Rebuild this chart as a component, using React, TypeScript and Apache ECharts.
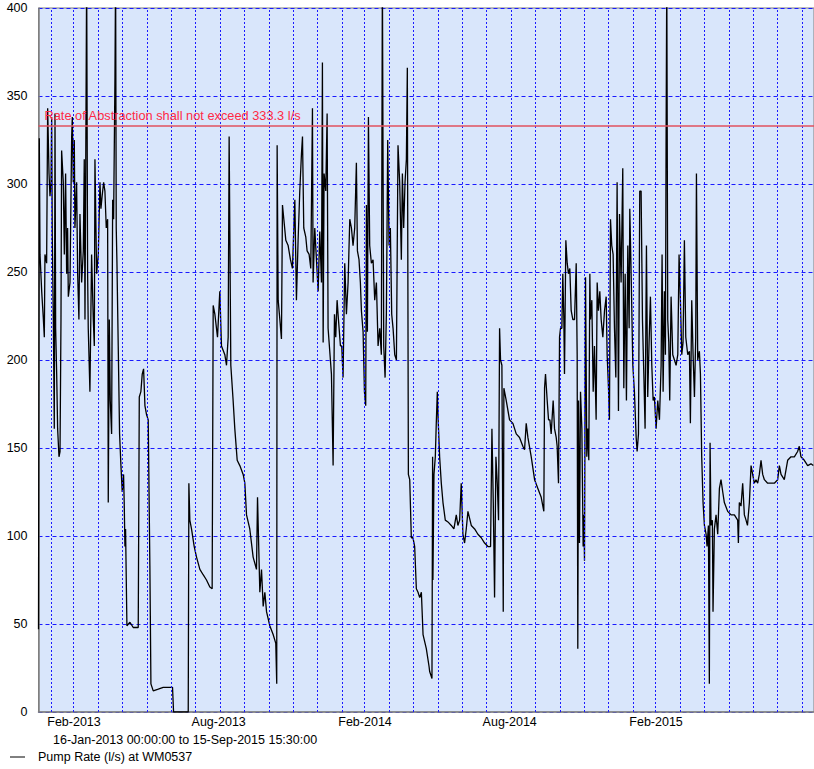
import React, { useEffect, useRef } from 'react';
import * as echarts from 'echarts';

const START = Date.UTC(2013, 0, 16);
const END = Date.UTC(2015, 8, 15, 15, 30);
const DAY = 86400000;

// days after 16-Jan-2013, and pump rate (l/s)
const days = [
  0, 1, 1.9, 4, 6, 7.3, 8.1, 10.2, 11.5, 13.2, 14.4, 15.7, 16.5, 17.3, 18.6, 19.8, 20.7, 21.5, 22.8, 24, 25.7, 27, 28.2, 29,
  31.1, 32.4, 34, 35.3, 36.5, 37.4, 39.5, 41.6, 42.4, 43.6, 44.9, 45.7, 47.8, 49.1, 50.7, 52, 54.1, 56.2, 57.4, 58.3,
  60.4, 61.6, 62.4, 64.5, 66.6, 68.7, 70, 70.8, 72.9, 75, 77.1, 78.3, 80, 81.7, 83.3, 85, 86.7, 87.5, 88.8, 90, 91.7,
  93, 94.2, 95.9, 96.7, 97.5, 98.4, 100, 101.7, 103.4, 105, 106.7, 107.5, 108.4, 109.2, 110.9, 114.7, 118.8, 125.1,
  126.4, 128.4, 130.1, 131.8, 133.5, 135.5, 137.6, 139.7, 141, 143.9, 150.2, 156.4, 162.7, 168.1, 169.4, 187.8, 188.6,
  189.8, 191.9, 195.3, 198.2, 202.4, 206.5, 210.7, 214.9, 217.8, 219.1, 221.2, 224.5, 227.4, 229.5, 233.7, 235.8,
  237.9, 239.1, 241.2, 244.1, 246.2, 249.2, 252.5, 256.7, 258.8, 260.9, 265, 269.2, 273.4, 274.7, 277.6, 279.7, 281.8,
  283.9, 286, 290.1, 294.3, 297.6, 298.8, 299.3, 300.6, 302.7, 304.7, 306, 307.7, 310.2, 313.1, 316, 318.5, 321.5,
  323.5, 325.6, 327.7, 329.8, 331.1, 332.7, 335.2, 336.9, 339.4, 341.5, 343.6, 344.4, 346.5, 348.6, 350.7, 352.8,
  354.9, 356.1, 357, 358.2, 360.3, 362, 363.2, 365.3, 367.4, 369.5, 371.2, 372.8, 374.5, 376.2, 378.7, 380.3, 382,
  384.1, 386.2, 388.3, 390.4, 392.5, 394.5, 396.6, 398.7, 400, 402, 403.7, 405, 407.1, 408.8, 410.4, 411.3, 412.5,
  413.8, 415.4, 417.5, 419.6, 421.7, 423.8, 425.9, 428, 430, 431.3, 433, 434.7, 436.3, 438, 439.7, 441.3, 443, 444.7,
  446.8, 448.9, 450.9, 453, 455.1, 456.4, 458, 459.7, 461.4, 462.6, 463.9, 465.6, 467.6, 469.7, 471.8, 473.9, 476,
  478.1, 480.2, 482.3, 486.4, 489.8, 490.6, 493.5, 494.3, 494.7, 496, 497.7, 498.9, 500.2, 501, 503.1, 505.2, 507.3,
  510.2, 513.5, 517.7, 521, 524, 526, 528.2, 530.2, 532.3, 534.4, 536.5, 538.6, 542.8, 547, 551.1, 555.3, 559.5,
  563.7, 567, 568.7, 570.4, 572, 573.7, 575.4, 577, 578.3, 579.5, 581.2, 582.9, 583.7, 586.6, 590.8, 595, 599.2,
  603.3, 607.5, 609.6, 611.7, 613.8, 618, 622.2, 626.3, 630.5, 633.8, 634.7, 635.9, 638, 639.7, 641.4, 643, 645.5,
  647.2, 649.3, 650.5, 652.2, 653.5, 654.7, 656.4, 657.6, 658.9, 659.7, 661.4, 663.1, 664.7, 666.4, 668.1, 670.2,
  672.3, 674.4, 675.6, 676.4, 677.3, 678.5, 679.8, 681.5, 683.1, 684, 684.8, 686.1, 687.7, 689, 690.2, 691.5, 692.3,
  694, 695.7, 697.3, 699.4, 700.7, 702.3, 704, 705.7, 707.8, 709.9, 712, 713.2, 714.9, 716.1, 717.4, 719, 720.7,
  722.4, 724.1, 725.7, 727.4, 728.7, 730.7, 732.8, 734.1, 735.8, 737.4, 739.1, 740.8, 741.6, 743.3, 745.4, 747.4,
  749.6, 750.8, 752.5, 754.1, 755.8, 757.5, 759.2, 760.8, 762.5, 764.1, 765.8, 767.5, 769.2, 770.9, 772.5, 774.6,
  776.7, 778.8, 780.9, 782.1, 783.4, 785, 786.3, 787.1, 788, 789.2, 790.5, 791.7, 793.4, 795.5, 797.6, 799.7, 801.8,
  803.4, 805.1, 806.8, 808.4, 810.1, 811.8, 814.3, 816.4, 817.6, 819.3, 821, 822.7, 824.3, 825.2, 826.8, 828.9,
  830.2, 831.8, 833.5, 835.2, 837.3, 838.5, 840.2, 841.4, 842.3, 843.5, 845.2, 846, 847.7, 849.8, 851.9, 854, 856,
  858.2, 860.2, 864.4, 868.6, 872.8, 876.9, 877.8, 879, 881.1, 883.2, 885.3, 887.4, 889.2, 891.6, 893.7, 895.7,
  897.8, 899.9, 902, 904.1, 906.2, 908.3, 910.4, 914.5, 918.7, 922.9, 927.1, 929.2, 931.3, 935.4, 939.6, 943.8, 948,
  952.1, 954.2, 956.3, 960.5, 964.7, 968.8, 971.8,
];
const rates = [
  47, 326, 260, 239, 224, 213, 260, 255, 343, 306, 293, 301, 338, 270, 223, 161, 340, 218, 192, 161, 145, 148, 223, 319,
  301, 260, 306, 249, 275, 236, 244, 327, 338, 301, 325, 275, 301, 249, 223, 283, 244, 262, 314, 223,
  420, 249, 218, 182, 260, 223, 208, 314, 249, 260, 301, 286, 294, 301, 296, 275, 280, 119, 223, 177, 158,
  291, 280, 361, 420, 275, 255, 208, 158, 140, 125, 135, 119, 94, 104, 49, 51, 48, 48,
  179, 182, 192, 195, 174, 169, 166, 83, 16, 12, 13, 14, 14, 14, 0, 0, 130,
  109, 104, 94, 88, 81, 78, 75, 71, 70, 231, 226, 213, 239, 208, 203, 197,
  213, 327, 197, 177, 161, 143, 140, 135, 130, 112, 104, 88, 81, 122, 68, 81, 60,
  68, 57, 49, 44, 39, 16, 322, 234, 223, 212, 288, 280, 268, 265, 257, 252, 291,
  234, 268, 296, 317, 327, 275, 270, 262, 260, 252, 343, 244, 275, 257, 239, 273,
  244, 369, 210, 306, 296, 340, 218, 205, 192, 140, 226, 213, 234, 223, 208, 208, 190,
  255, 226, 244, 280, 275, 265, 275, 312, 262, 257, 244, 228, 216, 182, 174, 288, 216,
  338, 265, 255, 257, 234, 244, 208, 218, 203, 420, 208, 190, 226, 325, 265, 275, 226, 218,
  203, 200, 322, 301, 257, 306, 275, 301, 314, 366, 135, 132, 99, 99, 94, 70, 68,
  65, 68, 44, 36, 26, 23, 19, 145, 75, 135, 145, 164, 182, 169, 145, 130, 119,
  109, 108, 106, 104, 112, 106, 109, 130, 101, 96, 104, 114, 106, 104, 101, 99, 96,
  94, 94, 161, 119, 65, 145, 130, 109, 218, 200, 197, 57, 184, 177, 166, 164, 158,
  156, 151, 149, 164, 156, 145, 132, 127, 122, 114, 184, 192, 177, 166, 166, 158, 177,
  161, 156, 151, 130, 213, 218, 218, 249, 223, 192, 268, 255, 249, 252, 228, 223,
  223, 255, 203, 36, 177, 96, 182, 161, 94, 112, 86, 247, 145, 161, 143, 249, 223,
  234, 182, 208, 166, 244, 228, 239, 223, 213, 228, 236, 203, 184, 166, 280, 265, 260,
  218, 190, 301, 171, 283, 244, 309, 184, 249, 177, 265, 218, 286, 249, 197, 182,
  156, 148, 158, 296, 296, 223, 192, 161, 265, 179, 210, 236, 197, 177, 179, 161,
  177, 166, 197, 260, 182, 239, 203, 322, 420, 223, 210, 177, 236, 203, 200, 197, 203,
  260, 234, 203, 210, 268, 213, 203, 205, 164, 234, 203, 179, 213, 306, 200, 205,
  192, 145, 119, 106, 101, 94, 106, 16, 153, 106, 109, 57, 104, 112, 101, 127, 132,
  125, 119, 114, 112, 112, 109, 96, 119, 117, 130, 112, 109, 106, 119, 140, 135,
  130, 132, 130, 135, 143, 135, 132, 130, 130, 130, 132, 140, 135, 132, 143, 145, 145,
  148, 151, 145, 143, 140, 141, 140,
];

const LIMIT = 333.3;
const yTicks = [0, 50, 100, 150, 200, 250, 300, 350, 400];
const labelMonths = [
  [2013, 1], [2013, 7], [2014, 1], [2014, 7], [2015, 1],
];
const monthNames = ['Jan', 'Feb', 'Mar', 'Apr', 'May', 'Jun', 'Jul', 'Aug', 'Sep', 'Oct', 'Nov', 'Dec'];

const FONT = "'Liberation Sans', Arial, sans-serif";

const App: React.FC = () => {
  const chartRef = useRef<HTMLDivElement>(null);

  useEffect(() => {
    if (!chartRef.current) return;
    const chart = echarts.init(chartRef.current, null, { renderer: 'svg' });

    const seriesData = days.map((d, i) => [START + d * DAY, rates[i]]);

    // monthly grid lines
    const monthLines: any[] = [];
    for (let y = 2013; y <= 2015; y++) {
      for (let m = 0; m < 12; m++) {
        const t = Date.UTC(y, m, 1);
        if (t > START && t < END) monthLines.push({ xAxis: t });
      }
    }

    const option: echarts.EChartsOption = {
      animation: false,
      backgroundColor: '#ffffff',
      grid: {
        left: 38.5,
        right: 0,
        top: 8,
        bottom: 57,
        show: true,
        backgroundColor: '#d9e6fb',
        borderColor: '#7f7f7f',
        borderWidth: 1,
      },
      xAxis: {
        type: 'value',
        min: START,
        max: END,
        axisLine: { show: true, lineStyle: { color: '#7f7f7f', width: 1.5 } },
        axisTick: { show: false },
        splitLine: { show: false },
        axisLabel: {
          customValues: labelMonths.map(([y, m]) => Date.UTC(y, m, 1)),
          formatter: (v: number) => {
            const d = new Date(v);
            return `${monthNames[d.getUTCMonth()]}-${d.getUTCFullYear()}`;
          },
          align: 'left',
          padding: [0, 0, 0, -4],
          margin: 3,
          color: '#000',
          fontSize: 12.5,
          fontFamily: FONT,
        },
      },
      yAxis: {
        type: 'value',
        min: 0,
        max: 400,
        interval: 50,
        axisLine: { show: true, lineStyle: { color: '#7f7f7f', width: 1.5 } },
        axisTick: { show: false },
        axisLabel: {
          customValues: yTicks,
          color: '#000',
          fontSize: 12.5,
          fontFamily: FONT,
          margin: 11,
        },
        splitLine: { show: true, lineStyle: { color: '#1a1aff', type: [4, 3], width: 1 } },
      },
      series: [
        {
          type: 'line',
          data: [],
          z: 1,
          silent: true,
          markLine: {
            silent: true,
            symbol: 'none',
            label: { show: false },
            lineStyle: { color: '#1a1aff', type: [2, 2], width: 1 },
            data: monthLines,
          },
        },
        {
          type: 'line',
          name: 'Pump Rate (l/s) at WM0537',
          data: seriesData,
          z: 3,
          showSymbol: false,
          symbol: 'none',
          lineStyle: { color: '#000', width: 1.3 },
          markLine: {
            silent: true,
            symbol: 'none',
            data: [{ yAxis: LIMIT }],
            lineStyle: { color: '#e0505e', type: 'solid', width: 1.5 },
            label: {
              show: true,
              position: 'insideStartTop',
              formatter: `Rate of Abstraction shall not exceed ${LIMIT} l/s`,
              color: '#ff2a45',
              fontSize: 12.8,
              fontFamily: FONT,
              distance: [6, 3],
            },
          },
        },
      ],
      graphic: [
        {
          type: 'text',
          left: 53,
          top: 733,
          style: { text: '16-Jan-2013 00:00:00 to 15-Sep-2015 15:30:00', fill: '#000', fontSize: 12.5, fontFamily: FONT },
        },
        {
          type: 'line',
          shape: { x1: 10, y1: 757, x2: 25, y2: 757 },
          style: { stroke: '#000', lineWidth: 1 },
        },
        {
          type: 'text',
          left: 38,
          top: 750,
          style: { text: 'Pump Rate (l/s) at WM0537', fill: '#000', fontSize: 12.5, fontFamily: FONT },
        },
      ],
    };

    chart.setOption(option);
    return () => {
      chart.dispose();
    };
  }, []);

  return <div ref={chartRef} style={{ width: 814, height: 769, position: 'absolute', left: 0, top: 0 }} />;
};

export default App;
